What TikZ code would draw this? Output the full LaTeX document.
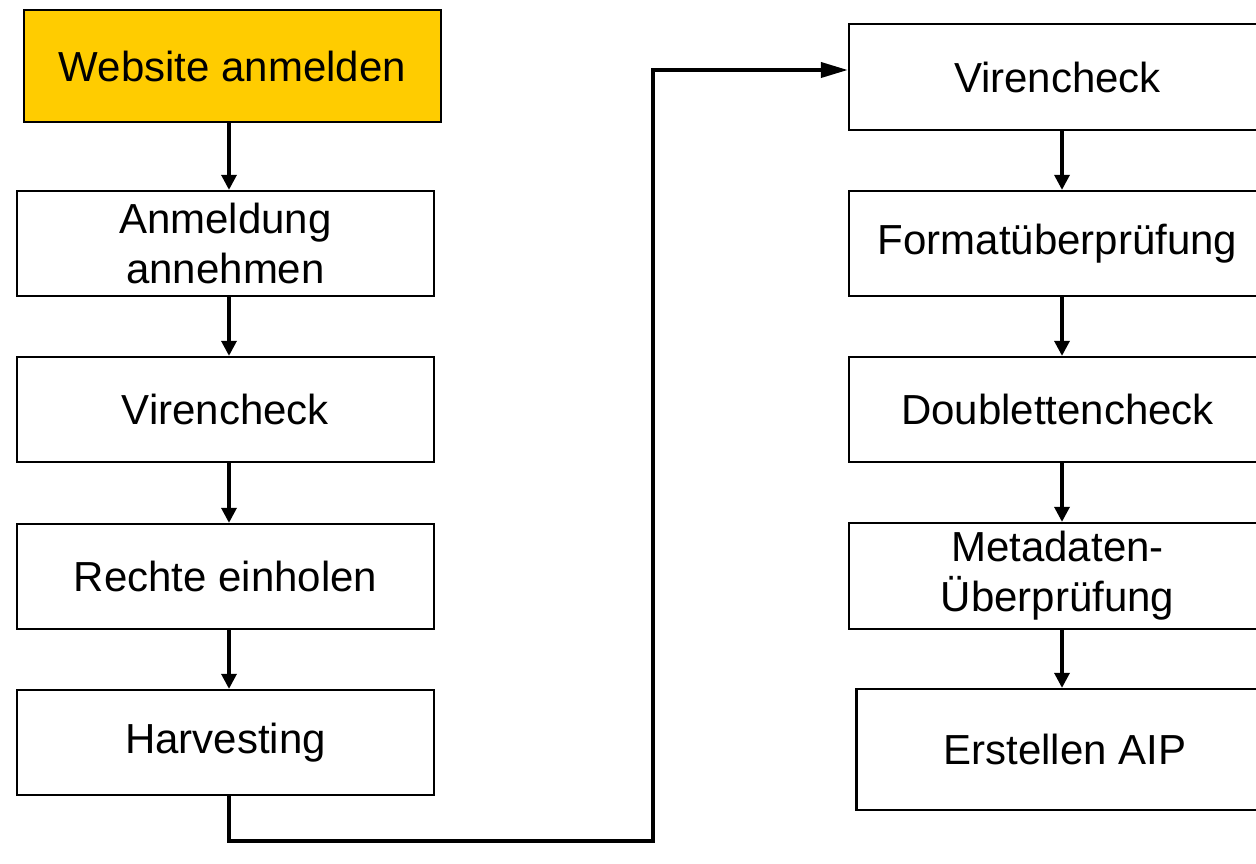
\documentclass[tikz,border=0pt]{standalone}
\usepackage{fontspec}
\setmainfont{Liberation Sans}
\usetikzlibrary{arrows.meta}
\definecolor{boxyellow}{HTML}{FFCC00}
\tikzset{
  procbox/.style={draw=black, line width=2.3pt, fill=white, rectangle, inner sep=0pt,
    minimum width=417pt, align=center, font=\fontsize{42}{50}\selectfont},
  downarrow/.style={line width=3.3pt, -{Triangle[length=15pt,width=15pt]}},
  longarrow/.style={line width=3.8pt, -{Triangle[length=27pt,width=15pt]}}
}
\begin{document}
\begin{tikzpicture}[x=1pt,y=-1pt]
\clip (0,0) rectangle (1256,864);
\fill[white] (0,0) rectangle (1256,864);
% left column
\node[procbox, fill=boxyellow, minimum height=112pt] (w) at (232.5,66) {Website anmelden};
\node[procbox, minimum height=105pt] (a) at (225.5,243.5) {Anmeldung\\annehmen};
\node[procbox, minimum height=105pt] (v1) at (225.5,409.5) {Virencheck};
\node[procbox, minimum height=105pt] (r) at (225.5,576.5) {Rechte einholen};
\node[procbox, minimum height=105pt] (h) at (225.5,742.5) {Harvesting};
% right column
\node[procbox, minimum height=106pt] (v2) at (1057.5,77) {Virencheck};
\node[procbox, minimum height=105pt] (f) at (1057.5,243.5) {Formatüberprüfung};
\node[procbox, minimum height=105pt] (d) at (1057.5,409.5) {Doublettencheck};
\node[procbox, minimum height=106pt] (m) at (1057.5,576) {Metadaten-\\Überprüfung};
\node[procbox, minimum height=121pt] (e) at (1065,749.5) {Erstellen AIP};
% column guide coordinates
\coordinate (cl) at (229,0);
\coordinate (cr) at (1062,0);
\coordinate (bl) at (229,841);
\coordinate (br) at (653,841);
\coordinate (tr) at (653,70);
% arrows left
\draw[downarrow] (cl |- w.south) -- (cl |- a.north);
\draw[downarrow] (cl |- a.south) -- (cl |- v1.north);
\draw[downarrow] (cl |- v1.south) -- (cl |- r.north);
\draw[downarrow] (cl |- r.south) -- (cl |- h.north);
% arrows right
\draw[downarrow] (cr |- v2.south) -- (cr |- f.north);
\draw[downarrow] (cr |- f.south) -- (cr |- d.north);
\draw[downarrow] (cr |- d.south) -- (cr |- m.north);
\draw[downarrow] (cr |- m.south) -- (cr |- e.north);
% long connector
\draw[longarrow, line join=miter] (cl |- h.south) -- (bl) -- (br) -- (tr) -- (tr -| v2.west);
\end{tikzpicture}
\end{document}
